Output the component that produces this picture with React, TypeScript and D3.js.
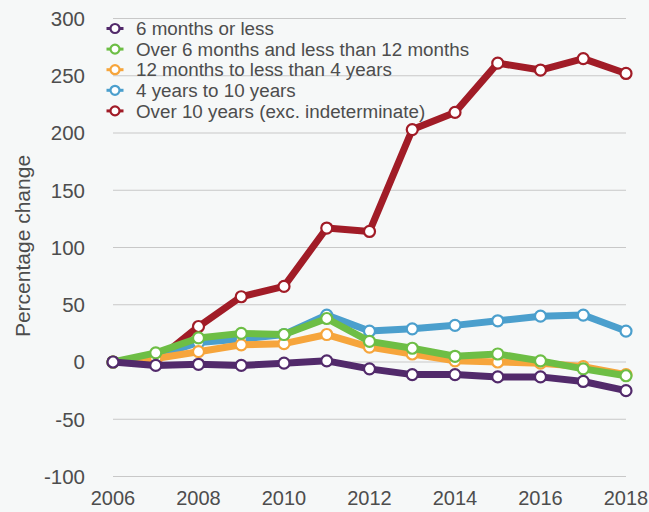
import React from 'react'
import * as d3 from 'd3'

const years = [2006, 2007, 2008, 2009, 2010, 2011, 2012, 2013, 2014, 2015, 2016, 2017, 2018]
const yTicks = [-100, -50, 0, 50, 100, 150, 200, 250, 300]
const xTicks = [2006, 2008, 2010, 2012, 2014, 2016, 2018]

const sixMonths = [0, -3, -2, -3, -1, 1, -6, -11, -11, -13, -13, -17, -25]
const sixToTwelve = [0, 8, 21, 25, 24, 38, 18, 12, 5, 7, 1, -6, -12]
const twelveToFour = [0, 3, 9, 15, 16, 24, 13, 7, 1, 0, -1, -4, -11]
const fourToTen = [0, 5, 17, 20, 24, 41, 27, 29, 32, 36, 40, 41, 27]
const overTen = [0, 1, 31, 57, 66, 117, 114, 203, 218, 261, 255, 265, 252]

const series = [
  { name: '6 months or less', color: '#522a6b', values: sixMonths },
  { name: 'Over 6 months and less than 12 months', color: '#6dbe45', values: sixToTwelve },
  { name: '12 months to less than 4 years', color: '#f6a53c', values: twelveToFour },
  { name: '4 years to 10 years', color: '#4b9fcd', values: fourToTen },
  { name: 'Over 10 years (exc. indeterminate)', color: '#a11c27', values: overTen },
]

const W = 649
const H = 512
const textColor = '#4d4d4d'
const font = '"Liberation Sans", Arial, sans-serif'

export default function App() {
  const x = d3.scaleLinear().domain([2006, 2018]).range([113, 626])
  const y = d3.scaleLinear().domain([-100, 300]).range([476.5, 18.5])
  const line = d3.line<number>().x((d, i) => x(years[i])).y(d => y(d))

  // draw last legend entry first so purple sits on top
  const drawOrder = series.slice().reverse()

  return (
    <svg width={W} height={H}
      style={{ position: 'absolute', left: 0, top: 0, display: 'block', background: '#f6f8f8', fontFamily: font }}>
      {yTicks.map(t => (
        <g key={t}>
          <line x1={x(2006)} x2={x(2018)} y1={y(t)} y2={y(t)} stroke="#c8c8c8" strokeWidth={1} />
          <text x={85} y={y(t)} dy="0.36em" textAnchor="end" fontSize={20.5} fill={textColor}>{t}</text>
        </g>
      ))}
      {xTicks.map(t => (
        <text key={t} x={x(t)} y={505} textAnchor="middle" fontSize={20} fill={textColor}>{t}</text>
      ))}
      <text transform="translate(30,246) rotate(-90)" textAnchor="middle" fontSize={21} fill={textColor}>
        Percentage change
      </text>

      {drawOrder.map(s => (
        <g key={s.name}>
          <path d={line(s.values) || ''} fill="none" stroke={s.color} strokeWidth={7} strokeLinejoin="round" />
          {s.values.map((v, i) => (
            <circle key={i} cx={x(years[i])} cy={y(v)} r={5.5} fill="#fff" stroke={s.color} strokeWidth={2.2} />
          ))}
        </g>
      ))}

      {series.map((s, i) => (
        <g key={s.name} transform={`translate(115,${28.5 + i * 20.6})`}>
          <line x1={-8.5} x2={8.5} y1={0} y2={0} stroke={s.color} strokeWidth={3} />
          <circle r={4.5} fill="#fff" stroke={s.color} strokeWidth={2.2} />
          <text x={21} dy="0.36em" fontSize={18.8} fill={textColor}>{s.name}</text>
        </g>
      ))}
    </svg>
  )
}
